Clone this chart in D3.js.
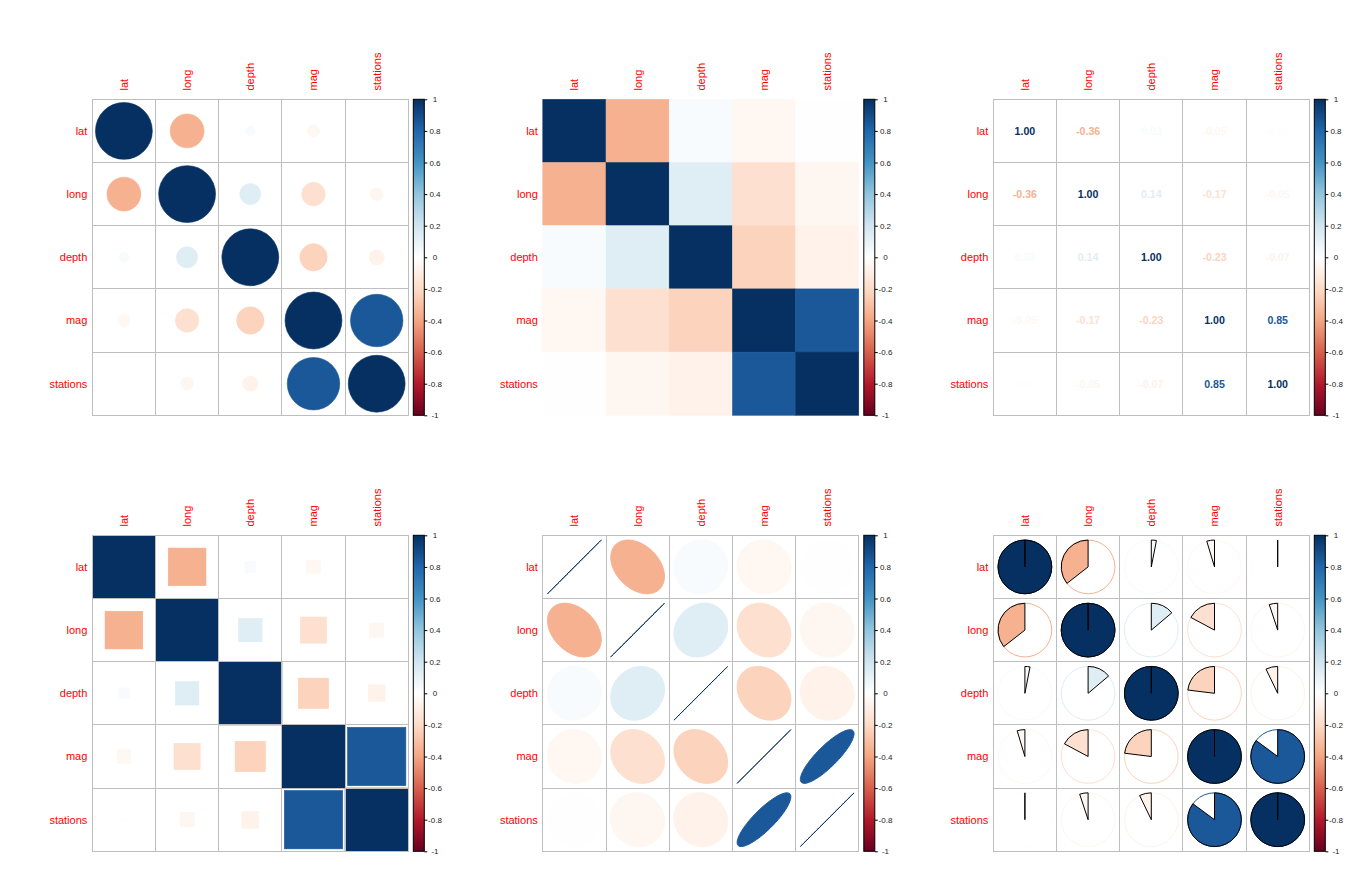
<!DOCTYPE html>
<html><head><meta charset="utf-8">
<script src="https://cdn.jsdelivr.net/npm/d3@7"></script>
<style>body{margin:0;background:#fff}svg{display:block}</style></head>
<body><svg id="c" width="1352" height="872"></svg>
<script>
// ---- data (cor(quakes)) ----
const variables = ["lat", "long", "depth", "mag", "stations"];
const corLat      = [ 1.0000, -0.3555,  0.0306, -0.0465, -0.0052];
const corLong     = [-0.3555,  1.0000,  0.1385, -0.1717, -0.0508];
const corDepth    = [ 0.0306,  0.1385,  1.0000, -0.2306, -0.0716];
const corMag      = [-0.0465, -0.1717, -0.2306,  1.0000,  0.8512];
const corStations = [-0.0052, -0.0508, -0.0716,  0.8512,  1.0000];
const palette = ["#67001F","#B2182B","#D6604D","#F4A582","#FDDBC7","#FFFFFF",
                 "#D1E5F0","#92C5DE","#4393C3","#2166AC","#053061"];
const paletteDomain = [-1,-0.8,-0.6,-0.4,-0.2,0,0.2,0.4,0.6,0.8,1];
const legendTicks  = [1, 0.8, 0.6, 0.4, 0.2, 0, -0.2, -0.4, -0.6, -0.8, -1];
const legendLabels = ["1","0.8","0.6","0.4","0.2","0","-0.2","-0.4","-0.6","-0.8","-1"];
const methods = ["circle", "color", "number", "square", "ellipse", "pie"];

const matrix = [corLat, corLong, corDepth, corMag, corStations];
const cells = [];
matrix.forEach((row, i) => row.forEach((v, j) => cells.push({r: variables[i], c: variables[j], v})));

const color = d3.scaleLinear().domain(paletteDomain).range(palette).interpolate(d3.interpolateRgb);
const svg = d3.select("#c");
const FONT = "'Liberation Sans', Arial, sans-serif";
const GRID = "#BEBEBE";
const SIZE = 316;

methods.forEach((method, idx) => {
  const col = idx % 3, row = Math.floor(idx / 3);
  const px = 92.3 + 450.5 * col, py = 99.3 + 436 * row;
  const x = d3.scaleBand().domain(variables).range([px, px + SIZE]);
  const y = d3.scaleBand().domain(variables).range([py, py + SIZE]);
  const bw = x.bandwidth();
  const g = svg.append("g");
  const cx = d => x(d.c) + bw / 2, cy = d => y(d.r) + bw / 2;

  if (method === "color") {
    g.selectAll("rect").data(cells).join("rect")
      .attr("x", d => x(d.c)).attr("y", d => y(d.r))
      .attr("width", bw).attr("height", bw)
      .attr("fill", d => color(d.v)).attr("stroke", d => color(d.v)).attr("stroke-width", 0.5);
  }

  const drawGrid = () => {
    g.append("g").selectAll("rect").data(cells).join("rect")
      .attr("x", d => x(d.c)).attr("y", d => y(d.r))
      .attr("width", bw).attr("height", bw)
      .attr("fill", "none").attr("stroke", GRID).attr("stroke-width", 1)
      .attr("shape-rendering", "crispEdges");
  };

  if (method === "circle") {
    drawGrid();
    g.selectAll("circle.m").data(cells).join("circle").attr("class", "m")
      .attr("cx", cx).attr("cy", cy)
      .attr("r", d => 0.45 * bw * Math.sqrt(Math.abs(d.v)))
      .attr("fill", d => color(d.v)).attr("stroke", d => color(d.v)).attr("stroke-width", 0.6);
  }
  if (method === "number") {
    drawGrid();
    g.selectAll("text.m").data(cells).join("text").attr("class", "m")
      .attr("x", cx).attr("y", cy).attr("dy", "0.36em")
      .attr("text-anchor", "middle").attr("font-family", FONT)
      .attr("font-weight", "bold").attr("font-size", 10.6)
      .attr("fill", d => color(d.v)).text(d => d.v.toFixed(2));
  }
  if (method === "square") {
    g.selectAll("rect.m").data(cells).join("rect").attr("class", "m")
      .attr("x", d => cx(d) - bw * Math.sqrt(Math.abs(d.v)) / 2)
      .attr("y", d => cy(d) - bw * Math.sqrt(Math.abs(d.v)) / 2)
      .attr("width", d => bw * Math.sqrt(Math.abs(d.v)))
      .attr("height", d => bw * Math.sqrt(Math.abs(d.v)))
      .attr("fill", d => color(d.v)).attr("stroke", d => color(d.v)).attr("stroke-width", 0.6);
    drawGrid();
  }
  if (method === "ellipse") {
    drawGrid();
    const ellipse = v => {
      const a = Math.acos(v);
      const pts = d3.range(99).map(i => {
        const k = 2 * Math.PI * i / 98;
        return [0.85 * bw * Math.cos(k + a / 2) / 2, -0.85 * bw * Math.cos(k - a / 2) / 2];
      });
      return d3.line()(pts) + "Z";
    };
    g.selectAll("path.m").data(cells).join("path").attr("class", "m")
      .attr("transform", d => `translate(${cx(d)},${cy(d)})`)
      .attr("d", d => ellipse(d.v))
      .attr("fill", d => color(d.v)).attr("stroke", d => color(d.v)).attr("stroke-width", 1);
  }
  if (method === "pie") {
    drawGrid();
    const R = 0.85 * bw / 2;
    g.selectAll("circle.o").data(cells).join("circle").attr("class", "o")
      .attr("cx", cx).attr("cy", cy).attr("r", R)
      .attr("fill", "none").attr("stroke", d => color(d.v)).attr("stroke-width", 1);
    const pie = v => {
      const p = d3.path();
      const th = 2 * Math.PI * v;
      p.moveTo(0, 0); p.lineTo(0, -R);
      // corrplot draws essentially no arc when |r| < 0.01
      if (Math.abs(v) >= 0.01) p.arc(0, 0, R, -Math.PI / 2, -Math.PI / 2 + th, th < 0);
      p.closePath();
      return p.toString();
    };
    g.selectAll("path.m").data(cells).join("path").attr("class", "m")
      .attr("transform", d => `translate(${cx(d)},${cy(d)})`)
      .attr("d", d => pie(d.v))
      .attr("fill", d => color(d.v)).attr("stroke", "#000").attr("stroke-width", 1);
  }

  // labels
  g.append("g").selectAll("text").data(variables).join("text")
    .attr("transform", d => `translate(${x(d) + bw / 2},${py - 8.8}) rotate(-90)`)
    .attr("dy", "0.36em").attr("text-anchor", "start")
    .attr("font-family", FONT).attr("font-size", 11).attr("fill", "#FF0000").text(d => d);
  g.append("g").selectAll("text").data(variables).join("text")
    .attr("x", px - 5).attr("y", d => y(d) + bw / 2).attr("dy", "0.36em")
    .attr("text-anchor", "end")
    .attr("font-family", FONT).attr("font-size", 11).attr("fill", "#FF0000").text(d => d);

  // colour legend
  const lx = px + SIZE + 5, lw = 11;
  const ls = d3.scaleLinear().domain([-1, 1]).range([py + SIZE, py]);
  const gid = "grad" + idx;
  const grad = svg.append("defs").append("linearGradient").attr("id", gid)
    .attr("x1", 0).attr("y1", 1).attr("x2", 0).attr("y2", 0);
  grad.selectAll("stop").data(paletteDomain).join("stop")
    .attr("offset", d => (d + 1) / 2).attr("stop-color", d => color(d));
  g.append("rect").attr("x", lx).attr("y", py).attr("width", lw).attr("height", SIZE)
    .attr("fill", `url(#${gid})`).attr("stroke", "#000").attr("stroke-width", 1);
  const ax = g.append("g").attr("transform", `translate(${lx + lw},0)`)
    .call(d3.axisRight(ls).tickValues(legendTicks)
      .tickFormat((d, i) => legendLabels[i]).tickSize(3).tickSizeOuter(0));
  ax.select(".domain").remove();
  ax.selectAll("line").attr("stroke", "#000");
  ax.selectAll("text").attr("x", 10.7).attr("text-anchor", "middle")
    .attr("font-family", FONT).attr("font-size", 8).attr("fill", "#222");
});
</script></body></html>
